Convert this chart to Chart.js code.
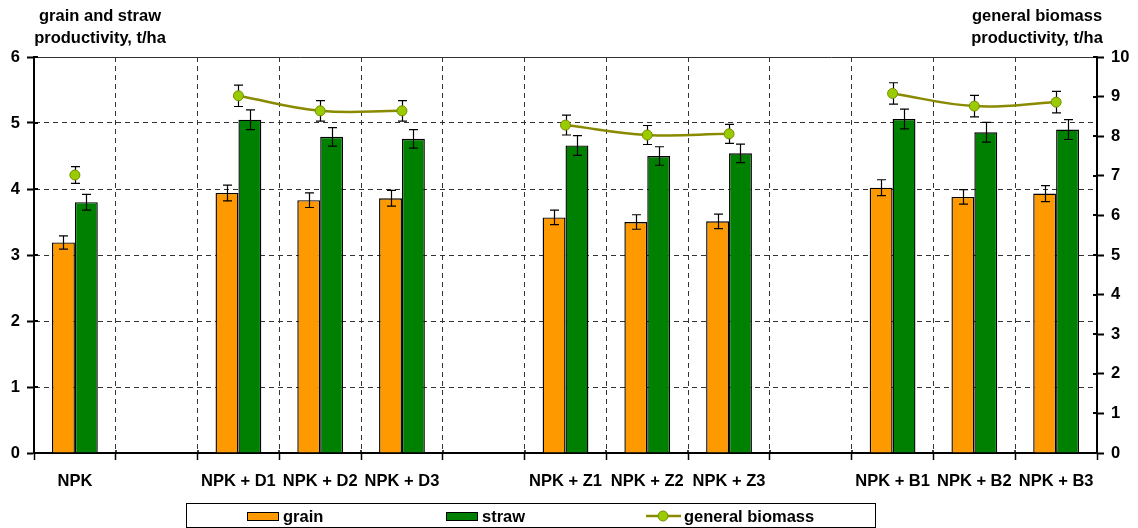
<!DOCTYPE html>
<html>
<head>
<meta charset="utf-8">
<script src="https://cdn.jsdelivr.net/npm/chart.js@4.4.1/dist/chart.umd.min.js"></script>
<style>
html, body { margin: 0; padding: 0; background: #fff; }
</style>
</head>
<body>
<canvas id="chart" width="1138" height="528"></canvas>
<script>
// categories, empty ones are the gaps between treatment groups
var categories = ['NPK', '', 'NPK + D1', 'NPK + D2', 'NPK + D3', '', 'NPK + Z1', 'NPK + Z2', 'NPK + Z3', '', 'NPK + B1', 'NPK + B2', 'NPK + B3'];

var grain    = [3.19, null, 3.94, 3.83, 3.86, null, 3.57, 3.50, 3.51, null, 4.02, 3.88, 3.93];
var grainErr = [0.10, null, 0.12, 0.11, 0.12, null, 0.11, 0.11, 0.11, null, 0.12, 0.11, 0.12];

var straw    = [3.80, null, 5.05, 4.79, 4.76, null, 4.66, 4.50, 4.54, null, 5.06, 4.86, 4.90];
var strawErr = [0.12, null, 0.15, 0.14, 0.14, null, 0.15, 0.14, 0.14, null, 0.15, 0.15, 0.15];

var biomass    = [7.02, null, 9.02, 8.64, 8.64, null, 8.28, 8.03, 8.06, null, 9.08, 8.76, 8.86];
var biomassErr = [0.21, null, 0.27, 0.26, 0.26, null, 0.25, 0.24, 0.24, null, 0.27, 0.27, 0.27];

var leftMax = 6;
var rightMax = 10;
var leftTitle = ['grain and straw', 'productivity, t/ha'];
var rightTitle = ['general biomass', 'productivity, t/ha'];

var FONT = '"Liberation Sans", Arial, sans-serif';
Chart.defaults.font.family = FONT;
Chart.defaults.font.size = 16.5;
Chart.defaults.font.weight = 'bold';
Chart.defaults.color = '#000';

function drawErr(chart, index) {
    var ds = chart.data.datasets[index];
    if (!ds.errors) return;
    var meta = chart.getDatasetMeta(index);
    var scale = chart.scales[meta.yAxisID];
    var ctx = chart.ctx;
    ctx.save();
    ctx.strokeStyle = '#000';
    ctx.lineWidth = 1.2;
    ctx.beginPath();
    meta.data.forEach(function (el, i) {
        var v = ds.data[i], e = ds.errors[i];
        if (v == null || e == null) return;
        var x = Math.round(el.x) + 0.5;
        var y1 = scale.getPixelForValue(v + e);
        var y2 = scale.getPixelForValue(v - e);
        ctx.moveTo(x, y1); ctx.lineTo(x, y2);
        ctx.moveTo(x - 4.5, y1); ctx.lineTo(x + 4.5, y1);
        ctx.moveTo(x - 4.5, y2); ctx.lineTo(x + 4.5, y2);
    });
    ctx.stroke();
    ctx.restore();
}

var errorBars = {
    id: 'errorBars',
    beforeDatasetDraw: function (chart, args) {
        if (chart.data.datasets[args.index].type == 'line') drawErr(chart, args.index);
    },
    afterDatasetDraw: function (chart, args) {
        if (chart.data.datasets[args.index].type != 'line') drawErr(chart, args.index);
    }
};

// small inner half of the cross-shaped tick marks
function innerTicks(chart) {
    var ctx = chart.ctx;
    ctx.save();
    ctx.strokeStyle = '#000';
    ctx.lineWidth = 2;
    ctx.beginPath();
    var y = chart.scales.y, y1 = chart.scales.y1, x = chart.scales.x;
    y.ticks.forEach(function (t, i) {
        var p = Math.round(y.getPixelForTick(i));
        ctx.moveTo(y.right, p); ctx.lineTo(y.right + 4, p);
    });
    y1.ticks.forEach(function (t, i) {
        var p = Math.round(y1.getPixelForTick(i));
        ctx.moveTo(y1.left, p); ctx.lineTo(y1.left - 4, p);
    });
    ctx.stroke();
    ctx.lineWidth = 1.5;
    ctx.beginPath();
    for (var i = 0; i <= categories.length; i++) {
        var px = Math.round(x.getPixelForValue(i - 0.5));
        ctx.moveTo(px, x.top); ctx.lineTo(px, x.top - 3);
    }
    ctx.stroke();
    ctx.restore();
}

// axis titles above the plot + the boxed legend under it
var extras = {
    id: 'extras',
    afterDraw: function (chart) {
        innerTicks(chart);
        var ctx = chart.ctx;
        ctx.save();
        ctx.fillStyle = '#000';
        ctx.font = 'bold 16.5px ' + FONT;
        ctx.textAlign = 'center';
        ctx.textBaseline = 'alphabetic';
        ctx.fillText(leftTitle[0], 100, 21);
        ctx.fillText(leftTitle[1], 100, 43);
        ctx.fillText(rightTitle[0], 1037, 21);
        ctx.fillText(rightTitle[1], 1037, 43);

        // legend frame
        ctx.strokeStyle = '#000';
        ctx.lineWidth = 1;
        ctx.strokeRect(186.5, 503.5, 689, 24);

        var ds = chart.data.datasets;
        var cy = 516;
        ctx.textAlign = 'left';
        ctx.textBaseline = 'middle';
        // bars: grain, straw
        var boxX = [247, 446];
        [1, 2].forEach(function (d, k) {
            ctx.fillStyle = ds[d].backgroundColor;
            ctx.fillRect(boxX[k], cy - 4, 31, 8);
            ctx.strokeRect(boxX[k] + 0.5, cy - 4 + 0.5, 31, 8);
            ctx.fillStyle = '#000';
            ctx.fillText(ds[d].label, boxX[k] + 36, cy + 1);
        });
        // line: general biomass
        ctx.strokeStyle = ds[0].borderColor;
        ctx.lineWidth = 2.5;
        ctx.beginPath();
        ctx.moveTo(646, cy); ctx.lineTo(681, cy);
        ctx.stroke();
        ctx.beginPath();
        ctx.arc(663, cy, 5, 0, Math.PI * 2);
        ctx.fillStyle = ds[0].pointBackgroundColor;
        ctx.fill();
        ctx.lineWidth = 1;
        ctx.strokeStyle = ds[0].pointBorderColor;
        ctx.stroke();
        ctx.fillStyle = '#000';
        ctx.fillText(ds[0].label, 684, cy + 1);
        ctx.restore();
    }
};

var chart = new Chart(document.getElementById('chart').getContext('2d'), {
    type: 'bar',
    data: {
        labels: categories,
        datasets: [
            {
                type: 'line',
                label: 'general biomass',
                data: biomass,
                errors: biomassErr,
                yAxisID: 'y1',
                borderColor: '#8a8a00',
                borderWidth: 2.5,
                tension: 0.4,
                spanGaps: false,
                pointRadius: 5,
                pointBackgroundColor: '#99cc00',
                pointBorderColor: '#7a8a00',
                pointBorderWidth: 1,
                order: 0
            },
            {
                type: 'bar',
                label: 'grain',
                data: grain,
                errors: grainErr,
                yAxisID: 'y',
                backgroundColor: '#ff9900',
                borderColor: '#000',
                borderWidth: 1.4,
                categoryPercentage: 0.56,
                barPercentage: 1.0,
                order: 1
            },
            {
                type: 'bar',
                label: 'straw',
                data: straw,
                errors: strawErr,
                yAxisID: 'y',
                backgroundColor: '#008000',
                borderColor: '#000',
                borderWidth: 1.4,
                categoryPercentage: 0.56,
                barPercentage: 1.0,
                order: 1
            }
        ]
    },
    options: {
        responsive: false,
        animation: false,
        layout: { padding: { top: 57, bottom: 31, left: 0, right: 0 } },
        plugins: {
            legend: { display: false },
            tooltip: { enabled: false }
        },
        scales: {
            x: {
                offset: true,
                grid: { offset: true, color: '#333', tickColor: '#000', tickLength: 7, tickWidth: 1.5 },
                border: { color: '#000', width: 2, dash: [5, 4] },
                ticks: { autoSkip: false, maxRotation: 0, padding: 12 },
                afterFit: function (s) { s.height = 44; }
            },
            y: {
                position: 'left',
                min: 0,
                max: leftMax,
                ticks: { stepSize: 1, padding: 7 },
                grid: { color: '#333', tickColor: '#000', tickLength: 7, tickWidth: 2 },
                border: {
                    color: '#000', width: 2,
                    dash: function (c) { return (c.tick && c.tick.value == leftMax) ? [] : [5, 4]; }
                },
                afterFit: function (s) { s.width = 34; }
            },
            y1: {
                position: 'right',
                min: 0,
                max: rightMax,
                ticks: { stepSize: 1, padding: 7 },
                grid: { drawOnChartArea: false, tickColor: '#000', tickLength: 7, tickWidth: 2 },
                border: { color: '#000', width: 2 },
                afterFit: function (s) { s.width = 41; }
            }
        }
    },
    plugins: [errorBars, extras]
});
</script>
</body>
</html>
